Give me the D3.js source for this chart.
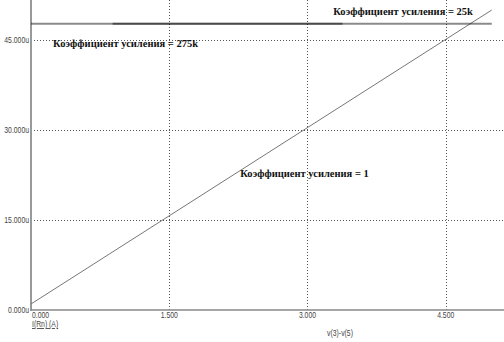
<!DOCTYPE html>
<html>
  <head>
    <meta charset="utf-8">
    <script src="https://d3js.org/d3.v7.min.js"></script>
    <style>
      body { margin: 0; background: #fff; }
      .tick-label { font-family: "Liberation Sans", Arial, sans-serif; font-size: 9px; fill: #444; }
      .note { font-family: "Liberation Serif", "Times New Roman", serif; font-weight: bold; font-size: 10.5px; fill: #111; }
    </style>
  </head>
  <body>
    <div id="chart"></div>
    <script>
      var width = 504, height = 342;

      // axis ticks
      var xTicks = [0, 1.5, 3.0, 4.5];
      var yTicks = [0, 15, 30, 45];

      // trace with gain = 1 (straight line)
      var gain1X = [0, 5.0];
      var gain1Y = [1.0, 50.0];

      // saturated traces (gain 275k and 25k)
      var sat275X = [0, 3.38];
      var sat275Y = [47.7, 47.7];
      var sat25X = [0.886, 5.0];
      var sat25Y = [47.7, 47.7];

      var labels = [
        {text: "Коэффициент усиления = 275k", x: 0.24, y: 43.9},
        {text: "Коэффициент усиления = 25k", x: 3.28, y: 49.1},
        {text: "Коэффициент усиления = 1", x: 2.27, y: 22.1}
      ];

      var x = d3.scaleLinear().domain([0, 4.5]).range([31, 445.7]);
      var y = d3.scaleLinear().domain([0, 45]).range([310, 40]);

      var narrow = 0.76; // tick font is a narrow face

      var svg = d3.select("#chart").append("svg")
        .attr("width", width)
        .attr("height", height);

      // grid
      var grid = svg.append("g");
      grid.selectAll(".vgrid")
        .data(xTicks.filter(function(d){ return d > 0; }))
        .enter().append("line")
          .attr("x1", function(d){ return Math.round(x(d)) + 0.5; })
          .attr("x2", function(d){ return Math.round(x(d)) + 0.5; })
          .attr("y1", 0)
          .attr("y2", y(0))
          .attr("stroke", "#555")
          .attr("stroke-dasharray", "1,2");
      grid.selectAll(".hgrid")
        .data(yTicks.filter(function(d){ return d > 0; }))
        .enter().append("line")
          .attr("x1", x(0))
          .attr("x2", width)
          .attr("y1", function(d){ return Math.round(y(d)) + 0.5; })
          .attr("y2", function(d){ return Math.round(y(d)) + 0.5; })
          .attr("stroke", "#555")
          .attr("stroke-dasharray", "1,2");

      // axes
      svg.append("line")
        .attr("x1", x(0)).attr("x2", x(0))
        .attr("y1", 0).attr("y2", y(0) + 1)
        .attr("stroke", "#999").attr("stroke-width", 2);
      svg.append("line")
        .attr("x1", x(0)).attr("x2", width)
        .attr("y1", y(0)).attr("y2", y(0))
        .attr("stroke", "#888").attr("stroke-width", 1.5);

      var line = d3.line()
        .x(function(d){ return x(d[0]); })
        .y(function(d){ return y(d[1]); });

      function pts(xs, ys) { return xs.map(function(v, i){ return [v, ys[i]]; }); }

      svg.append("path")
        .attr("d", line(pts(gain1X, gain1Y)))
        .attr("fill", "none")
        .attr("stroke", "#777")
        .attr("stroke-width", 1);

      [pts(sat275X, sat275Y), pts(sat25X, sat25Y)].forEach(function(p){
        svg.append("path")
          .attr("d", line(p))
          .attr("fill", "none")
          .attr("stroke", "#000")
          .attr("stroke-opacity", 0.46)
          .attr("stroke-width", 2);
      });

      function tickText(px, py, anchor, txt) {
        return svg.append("text")
          .attr("class", "tick-label")
          .attr("transform", "translate(" + px + "," + py + ") scale(" + narrow + ",1)")
          .attr("text-anchor", anchor)
          .text(txt);
      }

      // tick labels
      yTicks.forEach(function(d){
        tickText(x(0) - 2, y(d) + 3, "end", d3.format(".3f")(d) + "u");
      });
      xTicks.forEach(function(d){
        tickText(d === 0 ? x(d) + 1 : x(d), y(0) + 8, d === 0 ? "start" : "middle", d3.format(".3f")(d));
      });

      tickText(x(0) + 1, y(0) + 17, "start", "I(Rn) (A)")
        .attr("text-decoration", "underline");
      tickText(340, 336, "middle", "v(3)-v(5)");

      // annotations
      svg.selectAll(".note")
        .data(labels)
        .enter().append("text")
          .attr("class", "note")
          .attr("x", function(d){ return x(d.x); })
          .attr("y", function(d){ return y(d.y); })
          .text(function(d){ return d.text; });
    </script>
  </body>
</html>
